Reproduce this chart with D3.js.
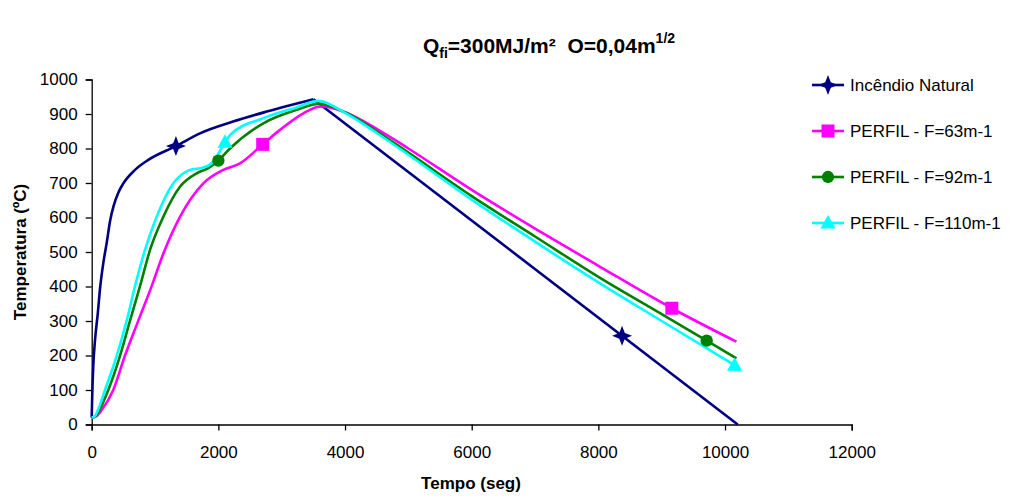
<!DOCTYPE html>
<html><head><meta charset="utf-8">
<script src="https://cdn.jsdelivr.net/npm/d3@7"></script>
<style>
html,body{margin:0;padding:0;background:#fff;}
svg{display:block;}
text{font-family:"Liberation Sans",Arial,sans-serif;fill:#000;}
</style></head>
<body>
<div id="chart"></div>
<script>
// ---- data ----
const natTime = [0,10,25,55,95,135,185,240,290,350,420,500,684,894,1330,1710,2232,2763,3500,10200];
const natTemp = [20,95,170,250,320,400,470,530,590,636,672,699,738,767,807,844,878,907,943,0];
const natMarks = [[1330,807],[8374,257]];

const f63Time = [0,80,158,341,526,736,947,1120,1394,1763,2079,2342,2700,2973,3342,3579,3650,4000,4500,5000,6000,7000,8000,9160,10180];
const f63Temp = [20,25,42,100,200,301,401,490,602,699,738,757,812,854,902,921,922,905,857,800,680,568,460,337,240];
const f63Marks = [[2700,812],[9160,337]];

const f92Time = [0,60,130,262,447,605,763,921,1131,1394,1658,1842,2000,2184,2710,3237,3600,4000,4500,5000,6000,7000,8000,9000,9710,10180];
const f92Temp = [20,24,45,100,199,301,401,506,602,689,728,743,765,800,873,912,930,905,850,788,662,545,428,320,243,192];
const f92Marks = [[2000,765],[9710,243]];

const f110Time = [0,50,105,210,395,553,684,842,1026,1289,1552,1763,1921,2000,2105,2184,2710,3237,3580,4000,4500,5000,6000,7000,8000,9000,10150];
const f110Temp = [20,24,45,100,199,301,401,506,602,699,738,745,762,785,818,839,888,919,938,903,845,782,652,530,412,300,172];
const f110Marks = [[2105,818],[10150,172]];

const seriesNames = ["Incêndio Natural","PERFIL - F=63m-1","PERFIL - F=92m-1","PERFIL - F=110m-1"];
const seriesColors = ["#000080","#FF00FF","#008000","#00FFFF"];
const seriesShapes = ["star","square","circle","triangle"];

const xTicks = [0,2000,4000,6000,8000,10000,12000];
const yTicks = [0,100,200,300,400,500,600,700,800,900,1000];

const series = [
  {time:natTime,temp:natTemp,marks:natMarks},
  {time:f63Time,temp:f63Temp,marks:f63Marks},
  {time:f92Time,temp:f92Temp,marks:f92Marks},
  {time:f110Time,temp:f110Temp,marks:f110Marks}
].map((s,i)=>({name:seriesNames[i],color:seriesColors[i],shape:seriesShapes[i],
  pts:s.time.map((t,j)=>[t,s.temp[j]]),marks:s.marks}));

// ---- layout ----
const W=1011,H=498;
const svg=d3.select("#chart").append("svg").attr("width",W).attr("height",H);
const x=d3.scaleLinear().domain([0,12000]).range([91.7,851.7]);
const y=d3.scaleLinear().domain([0,1000]).range([424.5,79.5]);

function markerPath(shape){
  if(shape==="star"){const r=10,w=2.8;return `M0,${-r}L${w},${-w}L${r},0L${w},${w}L0,${r}L${-w},${w}L${-r},0L${-w},${-w}Z`;}
  if(shape==="square"){const s=6.5;return `M${-s},${-s}H${s}V${s}H${-s}Z`;}
  if(shape==="circle"){return d3.symbol(d3.symbolCircle,120)();}
  if(shape==="triangle"){return "M0,-8L7.5,5.5L-7.5,5.5Z";}
}

// axes
const xAxis=svg.append("g").attr("transform",`translate(0,${y(0)})`)
  .call(d3.axisBottom(x).tickValues(xTicks).tickSize(6).tickPadding(15).tickFormat(d3.format("d")));
const yAxis=svg.append("g").attr("transform",`translate(${x(0)},0)`)
  .call(d3.axisLeft(y).tickValues(yTicks).tickSize(6).tickPadding(8).tickFormat(d3.format("d")));
[xAxis,yAxis].forEach(a=>{
  a.selectAll("path,line").attr("stroke","#000").attr("stroke-width",1.3);
  a.selectAll("text").style("font-size","17px").style("font-family",'"Liberation Sans",Arial,sans-serif').attr("fill","#000");
});

// lines: smooth monotone curve, with straight segment after a sharp peak
const smooth=d3.line().x(d=>x(d[0])).y(d=>y(d[1])).curve(d3.curveMonotoneX);
const straight=d3.line().x(d=>x(d[0])).y(d=>y(d[1]));
series.forEach((s,i)=>{
  if(i===0){
    const k=s.pts.length-2; // peak index
    svg.append("path").datum(s.pts.slice(0,k+1)).attr("d",smooth).attr("fill","none")
      .attr("stroke",s.color).attr("stroke-width",2.6).attr("stroke-linejoin","round");
    svg.append("path").datum(s.pts.slice(k)).attr("d",straight).attr("fill","none")
      .attr("stroke",s.color).attr("stroke-width",2.6).attr("stroke-linejoin","round");
  } else {
    svg.append("path").datum(s.pts).attr("d",smooth).attr("fill","none")
      .attr("stroke",s.color).attr("stroke-width",2.6).attr("stroke-linejoin","round");
  }
});
series.forEach(s=>{
  svg.selectAll(null).data(s.marks).enter().append("path")
    .attr("d",markerPath(s.shape))
    .attr("transform",d=>`translate(${x(d[0])},${y(d[1])})`)
    .attr("fill",s.color);
});

// title
const title=svg.append("text").attr("x",549).attr("y",53).attr("text-anchor","middle")
  .style("font-size","21px").style("font-weight","bold");
title.append("tspan").text("Q");
title.append("tspan").text("fi").attr("dy",5).style("font-size","14px");
title.append("tspan").text("=300MJ/m²\u00A0 O=0,04m").attr("dy",-5);
title.append("tspan").text("1/2").attr("dy",-10).style("font-size","14px");

// axis titles
svg.append("text").attr("transform",`translate(26,${(y(0)+y(1000))/2}) rotate(-90)`)
  .attr("text-anchor","middle").style("font-size","17px").style("font-weight","bold")
  .text("Temperatura (ºC)");
svg.append("text").attr("x",471).attr("y",489).attr("text-anchor","middle")
  .style("font-size","17px").style("font-weight","bold").text("Tempo (seg)");

// legend
const legY=[85,131,177,223];
series.forEach((s,i)=>{
  const g=svg.append("g").attr("transform",`translate(0,${legY[i]})`);
  g.append("line").attr("x1",812).attr("x2",844).attr("y1",0).attr("y2",0)
    .attr("stroke",s.color).attr("stroke-width",2.6);
  g.append("path").attr("d",markerPath(s.shape)).attr("transform","translate(828,0)").attr("fill",s.color);
  g.append("text").attr("x",850).attr("y",6).style("font-size","17px").text(s.name);
});
</script>
</body></html>
